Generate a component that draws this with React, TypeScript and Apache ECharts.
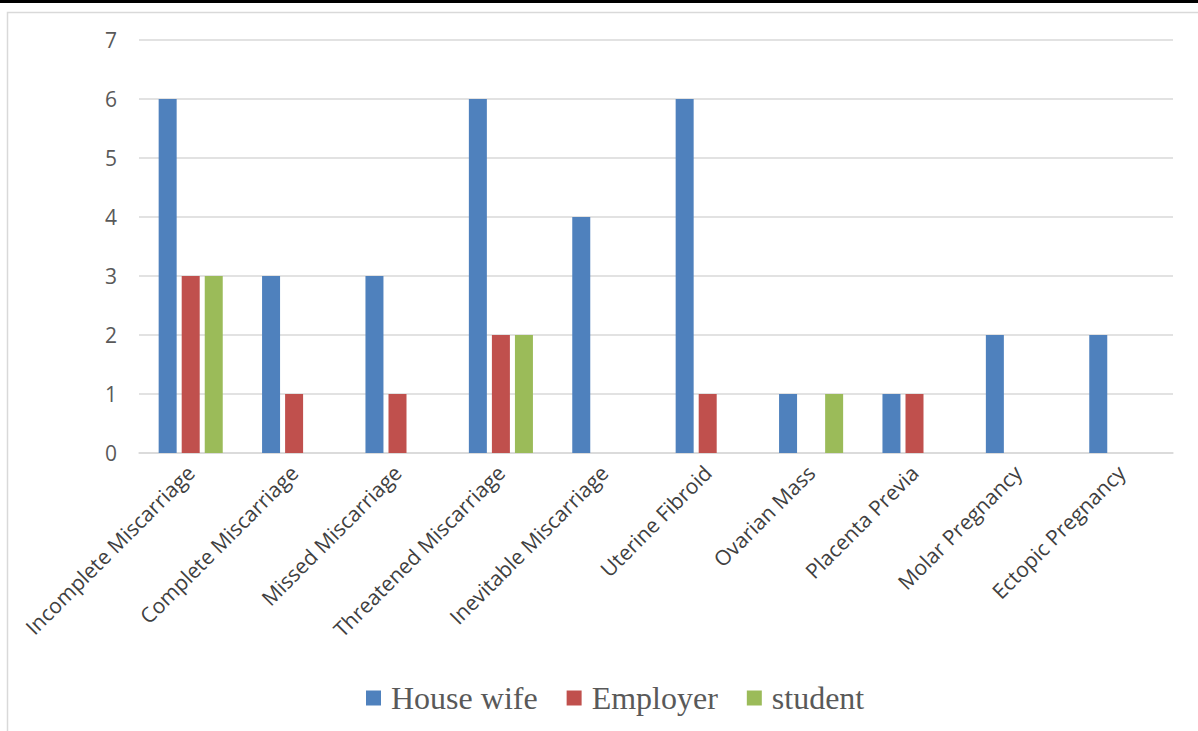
import React, { useEffect, useRef } from "react";
import * as echarts from "echarts";

const categories = [
  "Incomplete Miscarriage",
  "Complete Miscarriage",
  "Missed Miscarriage",
  "Threatened Miscarriage",
  "Inevitable Miscarriage",
  "Uterine Fibroid",
  "Ovarian Mass",
  "Placenta Previa",
  "Molar Pregnancy",
  "Ectopic Pregnancy",
];
const houseWife = [6, 3, 3, 6, 4, 6, 1, 1, 2, 2];
const employer = [3, 1, 1, 2, null, 1, null, 1, null, null];
const student = [3, null, null, 2, null, null, 1, null, null, null];
const seriesNames = ["House wife", "Employer", "student"];
const colors = ["#4F81BD", "#C0504D", "#9BBB59"];

export default function App() {
  const ref = useRef<HTMLDivElement>(null);
  useEffect(() => {
    const chart = echarts.init(ref.current!, null, { renderer: "svg" });
    const data = [houseWife, employer, student];
    chart.setOption({
      animation: false,
      backgroundColor: "#ffffff",
      graphic: [
        { type: "rect", shape: { x: 0, y: 0, width: 1198, height: 3 }, style: { fill: "#000000" } },
        {
          type: "rect",
          shape: { x: 7.5, y: 12.5, width: 1200, height: 730 },
          style: { fill: "none", stroke: "#d9d9d9", lineWidth: 1.5 },
        },
      ],
      grid: { left: 139, right: 25, top: 40, bottom: 278, containLabel: false },
      legend: {
        bottom: 12,
        left: 361,
        itemWidth: 15,
        itemHeight: 15,
        itemGap: 29,
        icon: "rect",
        textStyle: {
          fontFamily: "Liberation Serif",
          fontSize: 32,
          color: "#595959",
          padding: [0, 0, 0, 5],
        },
        data: seriesNames,
      },
      xAxis: {
        type: "category",
        data: categories,
        axisLine: { show: true, lineStyle: { color: "#d9d9d9", width: 1.5 } },
        axisTick: { show: false },
        axisLabel: {
          rotate: 45,
          interval: 0,
          margin: 16,
          fontFamily: "Open Sans",
          fontSize: 21,
          color: "#404040",
        },
      },
      yAxis: {
        type: "value",
        min: 0,
        max: 7,
        interval: 1,
        axisLine: { show: false },
        axisTick: { show: false },
        splitLine: { lineStyle: { color: "#d9d9d9", width: 1.5 } },
        axisLabel: {
          margin: 22,
          fontFamily: "Open Sans",
          fontSize: 21,
          color: "#595959",
        },
      },
      series: seriesNames.map((name, i) => ({
        name,
        type: "bar",
        data: data[i],
        barWidth: 18,
        barGap: "28%",
        itemStyle: { color: colors[i] },
      })),
    });
    return () => chart.dispose();
  }, []);
  return (
    <div
      ref={ref}
      style={{ position: "absolute", left: 0, top: 0, width: 1198, height: 731 }}
    />
  );
}
